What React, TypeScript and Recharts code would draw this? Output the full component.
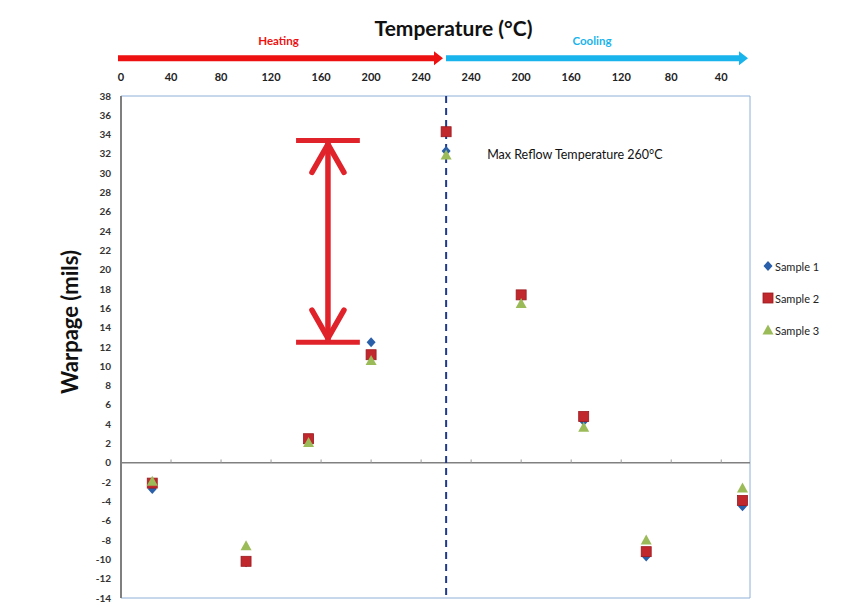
import React from 'react';
import {
  ScatterChart,
  Scatter,
  XAxis,
  YAxis,
  ReferenceLine,
  ReferenceArea,
  Legend,
  Label,
} from 'recharts';

// measurement points: heating ramp up to peak, then cooling back down
const phases = ['heat', 'heat', 'heat', 'heat', 'heat', 'cool', 'cool', 'cool', 'cool'];
const temps = [25, 100, 150, 200, 260, 200, 150, 100, 23];

const sample1 = [-2.7, -10.3, 2.4, 12.5, 32.3, 17.2, 4.3, -9.7, -4.5];
const sample2 = [-2.1, -10.2, 2.5, 11.2, 34.3, 17.4, 4.8, -9.2, -3.9];
const sample3 = [-1.9, -8.6, 2.1, 10.6, 31.9, 16.5, 3.7, -8.0, -2.6];

const seriesNames = ['Sample 1', 'Sample 2', 'Sample 3'];
const seriesColors = ['#2a5faa', '#c0282d', '#9bbb59'];

const heatTicks = [0, 40, 80, 120, 160, 200, 240];
const coolTicks = [240, 200, 160, 120, 80, 40];
const yTicks = [-14, -12, -10, -8, -6, -4, -2, 0, 2, 4, 6, 8, 10, 12, 14, 16, 18, 20, 22, 24, 26, 28, 30, 32, 34, 36, 38];

const PEAK = 260;
const X_MAX = 503;
const rangeHigh = 33.4;
const rangeLow = 12.5;
const arrowLevel = 41.9;

// position along the profile: cooling temps are mirrored past the peak
const pos = (t: number, phase: string) => (phase === 'heat' ? t : 2 * PEAK - t);

const topTicks = [...heatTicks, ...coolTicks.map((t) => pos(t, 'cool'))];
const zeroTicks = topTicks.filter((t) => t > 0);

const toPoints = (vals: number[]) => vals.map((v, i) => ({ x: pos(temps[i], phases[i]), y: v }));

const Diamond = ({ cx, cy, fill }: any) => (
  <polygon points={`${cx},${cy - 5} ${cx + 4.5},${cy} ${cx},${cy + 5} ${cx - 4.5},${cy}`} fill={fill} />
);
const Square = ({ cx, cy, fill }: any) => (
  <rect x={cx - 5} y={cy - 5} width={10} height={10} fill={fill} stroke="#9a1a1f" strokeWidth={0.8} />
);
const Triangle = ({ cx, cy, fill }: any) => (
  <polygon points={`${cx},${cy - 5.5} ${cx + 5.5},${cy + 4.5} ${cx - 5.5},${cy + 4.5}`} fill={fill} />
);
const shapes = [Diamond, Square, Triangle];

function FlowArrow({ x1, x2, y1, color, text, dx = 0 }: any) {
  const y = y1;
  const hx = x2 - 9;
  return (
    <g>
      <polygon
        points={`${x1},${y - 3} ${hx},${y - 3} ${hx},${y - 7} ${x2},${y} ${hx},${y + 7} ${hx},${y + 3} ${x1},${y + 3}`}
        fill={color}
      />
      <text x={(x1 + x2) / 2 + dx} y={y - 13} textAnchor="middle" fill={color} fontSize={11.5} fontWeight={700}>
        {text}
      </text>
    </g>
  );
}

function DoubleArrow({ x1, y1, y2 }: any) {
  const c = '#e0222a';
  return (
    <g stroke={c} strokeWidth={5.5} strokeLinecap="round" fill="none">
      <line x1={x1} y1={y1 + 3} x2={x1} y2={y2 - 3} />
      <polyline points={`${x1 - 16},${y1 + 32} ${x1},${y1 + 4} ${x1 + 16},${y1 + 32}`} strokeLinejoin="miter" />
      <polyline points={`${x1 - 16},${y2 - 32} ${x1},${y2 - 4} ${x1 + 16},${y2 - 32}`} strokeLinejoin="miter" />
    </g>
  );
}

function LegendBox() {
  return (
    <div style={{ fontSize: 11, color: '#222' }}>
      {seriesNames.map((name, i) => {
        const Shape = shapes[i];
        return (
          <div key={name} style={{ height: 32, display: 'flex', alignItems: 'center' }}>
            <svg width={12} height={12}>
              <Shape cx={6} cy={6} fill={seriesColors[i]} />
            </svg>
            <span style={{ marginLeft: 1 }}>{name}</span>
          </div>
        );
      })}
    </div>
  );
}

export default function App() {
  const data = [toPoints(sample1), toPoints(sample2), toPoints(sample3)];
  return (
    <div style={{ position: 'absolute', left: 0, top: 0, fontFamily: 'Lato, "Open Sans", sans-serif' }}>
      <ScatterChart width={846} height={616} margin={{ top: 66, right: 96, bottom: 18, left: 61 }}>
        <XAxis
          type="number"
          dataKey="x"
          orientation="top"
          domain={[0, X_MAX]}
          ticks={topTicks}
          interval={0}
          tickFormatter={(v: number) => String(v <= PEAK ? v : 2 * PEAK - v)}
          axisLine={false}
          tickLine={false}
          tickSize={0}
          tickMargin={15}
          height={30}
          tick={{ fontSize: 11, fontWeight: 700, fill: '#222' }}
        >
          <Label
            content={({ viewBox }: any) => (
              <text
                x={viewBox.x + viewBox.width / 2 + 18}
                y={viewBox.y - 30}
                textAnchor="middle"
                fontSize={21}
                fontWeight={700}
                fill="#111"
              >
                Temperature (°C)
              </text>
            )}
          />
        </XAxis>
        <YAxis
          type="number"
          dataKey="y"
          domain={[-14, 38]}
          ticks={yTicks}
          interval={0}
          width={60}
          axisLine={{ stroke: '#7f7f7f', strokeWidth: 2 }}
          tickLine={false}
          tickSize={0}
          tickMargin={10}
          tick={{ fontSize: 10, fontWeight: 700, fill: '#333' }}
        >
          <Label
            content={({ viewBox }: any) => {
              const cx = viewBox.x + 8;
              const cy = viewBox.y + viewBox.height / 2 - 25;
              return (
                <text
                  x={cx}
                  y={cy}
                  transform={`rotate(-90 ${cx} ${cy})`}
                  textAnchor="middle"
                  dominantBaseline="central"
                  fontSize={22}
                  fontWeight={700}
                  fill="#111"
                >
                  Warpage (mils)
                </text>
              );
            }}
          />
        </YAxis>

        <ReferenceArea x1={0} x2={X_MAX} y1={-14} y2={38} fill="none" stroke="#8eb0d8" strokeWidth={1} />
        <ReferenceLine y={0} stroke="#808080" strokeWidth={1.5} />
        {zeroTicks.map((t) => (
          <ReferenceLine key={t} segment={[{ x: t, y: 0 }, { x: t, y: 0.35 }]} stroke="#999" />
        ))}

        <ReferenceLine
          x={PEAK}
          stroke="#1f3a8a"
          strokeWidth={2}
          strokeDasharray="7 5"
          label={{
            content: ({ viewBox }: any) => (
              <text x={viewBox.x + 41} y={viewBox.y + 63} fontSize={12.5} fill="#111">
                Max Reflow Temperature 260°C
              </text>
            ),
          }}
        />

        {/* heating / cooling arrows above the plot */}
        <ReferenceLine
          ifOverflow="visible"
          segment={[{ x: -2.4, y: arrowLevel }, { x: 257.5, y: arrowLevel }]}
          shape={(p: any) => <FlowArrow {...p} color="#ee1111" text="Heating" dx={-2} />}
        />
        <ReferenceLine
          ifOverflow="visible"
          segment={[{ x: 259.9, y: arrowLevel }, { x: 501.4, y: arrowLevel }]}
          shape={(p: any) => <FlowArrow {...p} color="#1ab4ec" text="Cooling" dx={-5} />}
        />

        {/* warpage range marker */}
        <ReferenceLine segment={[{ x: 140, y: rangeHigh }, { x: 191, y: rangeHigh }]} stroke="#e0222a" strokeWidth={5} />
        <ReferenceLine segment={[{ x: 140, y: rangeLow }, { x: 191, y: rangeLow }]} stroke="#e0222a" strokeWidth={5} />
        <ReferenceLine
          segment={[{ x: 165.5, y: rangeHigh }, { x: 165.5, y: rangeLow }]}
          shape={(p: any) => <DoubleArrow {...p} />}
        />

        {data.map((pts, i) => {
          const Shape = shapes[i];
          return (
            <Scatter
              key={seriesNames[i]}
              name={seriesNames[i]}
              data={pts}
              fill={seriesColors[i]}
              shape={(p: any) => <Shape cx={p.cx} cy={p.cy} fill={seriesColors[i]} />}
              isAnimationActive={false}
            />
          );
        })}

        <Legend
          layout="vertical"
          align="center"
          verticalAlign="middle"
          wrapperStyle={{ left: 762, top: 250, width: 84 }}
          content={() => <LegendBox />}
        />
      </ScatterChart>
    </div>
  );
}
